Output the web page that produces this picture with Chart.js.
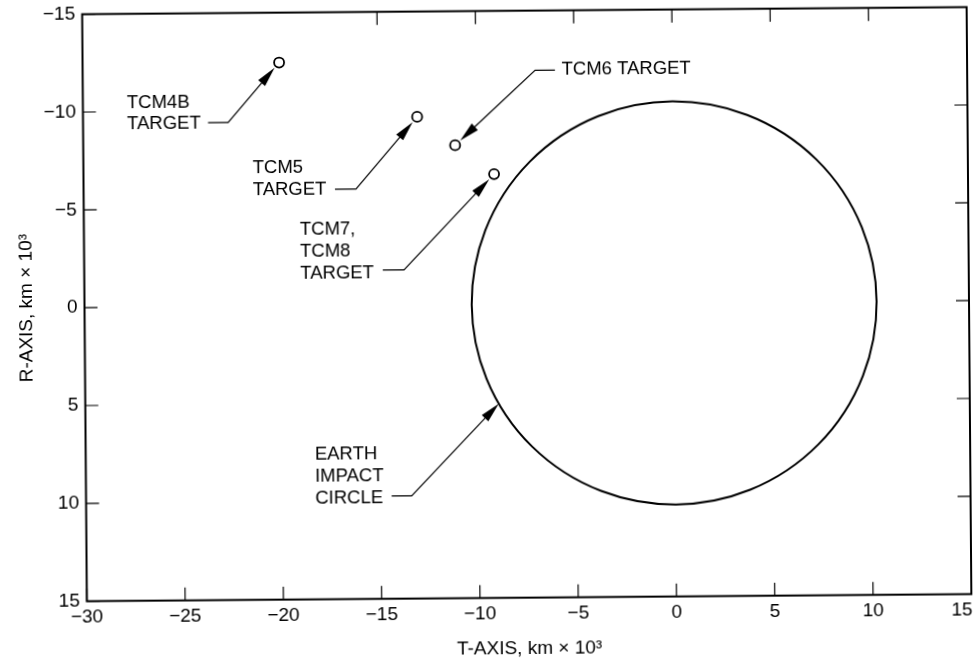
<!DOCTYPE html>
<html>
<head>
<meta charset="utf-8">
<script src="https://cdn.jsdelivr.net/npm/chart.js@4/dist/chart.umd.min.js"></script>
<style>
  html, body { margin: 0; padding: 0; background: #fff; overflow: hidden; }
  canvas {
    display: block;
    /* the printed plate sits slightly askew on the page */
    transform: rotate(-0.46deg);
    transform-origin: 526.75px 304.15px;
  }
</style>
</head>
<body>
<canvas id="bplane" width="977" height="662"></canvas>
<script>
// Target aim points in the B-plane (km x 10^3)
const targetNames = ['TCM4B', 'TCM5', 'TCM6', 'TCM7/TCM8'];
const targetT = [-20.0, -13.0, -11.08, -9.11];
const targetR = [-12.45, -9.62, -8.15, -6.66];

// Earth impact circle (km x 10^3)
const impactCenterT = 0;
const impactCenterR = 0;
const impactRadius = 10.3;

// Axis ticks
const xTickValues = [-30, -25, -20, -15, -10, -5, 0, 5, 10, 15];
const yTickValues = [-15, -10, -5, 0, 5, 10, 15];
const xTopTickValues = [-15, -10, -5, 0, 5, 10];
const yRightTickValues = [-10, -5, 0, 5, 10];

const xTitle = 'T-AXIS, km \u00d7 10\u00b3';
const yTitle = 'R-AXIS, km \u00d7 10\u00b3';

const FONT = '"Liberation Sans", Arial, Helvetica, sans-serif';
const LABEL_SIZE = 18.5; // callout text, px
const AXIS_SIZE = 19;    // tick labels and axis titles, px
const LINE_GAP = 21.7;   // px between callout lines
const HEAD_LEN = 20;     // arrowhead length, px
const HEAD_W = 9;        // arrowhead base width, px
const TICK_LEN = 13;     // inward tick length, px

// Callout labels with leader lines; positions in axis units
const callouts = [
  { lines: ['TCM4B', 'TARGET'], textAt: [-27.76, -10.19],
    leader: [[-23.64, -9.40], [-22.62, -9.40]], target: 0 },
  { lines: ['TCM5', 'TARGET'], textAt: [-21.39, -6.80],
    leader: [[-17.21, -5.96], [-16.14, -5.96]], target: 1 },
  { lines: ['TCM6 TARGET'], textAt: [-5.63, -11.70],
    leader: [[-5.97, -11.95], [-6.98, -11.95]], target: 2 },
  { lines: ['TCM7,', 'TCM8', 'TARGET'], textAt: [-19.01, -3.63],
    leader: [[-14.81, -1.80], [-13.73, -1.80]], target: 3 },
  { lines: ['EARTH', 'IMPACT', 'CIRCLE'], textAt: [-18.34, 7.88],
    leader: [[-14.45, 9.75], [-13.43, 9.75]], circleAngle: 150.5 }
];

// Minus sign for negatives; the last T label is nudged inside the frame edge
const fmtX = v => (v < 0 ? '\u2212' + Math.abs(v) : (v === 15 ? '15\u2002\u2002' : String(v)));
const fmtY = v => (v < 0 ? '\u2212' + Math.abs(v) : String(v));

const bplaneDecor = {
  id: 'bplaneDecor',
  beforeDatasetsDraw(chart) {
    const { ctx, scales: { x, y } } = chart;
    ctx.save();
    ctx.strokeStyle = '#000';
    ctx.fillStyle = '#000';

    // Earth impact circle
    const cx = x.getPixelForValue(impactCenterT);
    const cy = y.getPixelForValue(impactCenterR);
    const rx = Math.abs(x.getPixelForValue(impactCenterT + impactRadius) - cx);
    const ry = Math.abs(y.getPixelForValue(impactCenterR + impactRadius) - cy);
    ctx.lineWidth = 2;
    ctx.beginPath();
    ctx.ellipse(cx, cy, rx, ry, 0, 0, Math.PI * 2);
    ctx.stroke();

    // Callouts
    ctx.font = LABEL_SIZE + 'px ' + FONT;
    ctx.textAlign = 'left';
    ctx.textBaseline = 'alphabetic';
    callouts.forEach(c => {
      const tx = x.getPixelForValue(c.textAt[0]);
      const ty = y.getPixelForValue(c.textAt[1]);
      c.lines.forEach((s, i) => ctx.fillText(s, tx, ty + i * LINE_GAP));

      const pts = c.leader.map(p => [x.getPixelForValue(p[0]), y.getPixelForValue(p[1])]);
      let target, gap;
      if (c.target !== undefined) {
        target = [x.getPixelForValue(targetT[c.target]), y.getPixelForValue(targetR[c.target])];
        gap = 7;
      } else {
        const th = c.circleAngle * Math.PI / 180;
        target = [x.getPixelForValue(impactCenterT + impactRadius * Math.cos(th)),
                  y.getPixelForValue(impactCenterR + impactRadius * Math.sin(th))];
        gap = 0;
      }
      const e = pts[pts.length - 1];
      const dx = target[0] - e[0], dy = target[1] - e[1];
      const len = Math.hypot(dx, dy);
      const ux = dx / len, uy = dy / len;
      const tip = [target[0] - ux * gap, target[1] - uy * gap];
      const base = [tip[0] - ux * HEAD_LEN, tip[1] - uy * HEAD_LEN];

      ctx.lineWidth = 1.2;
      ctx.beginPath();
      ctx.moveTo(pts[0][0], pts[0][1]);
      for (let i = 1; i < pts.length; i++) ctx.lineTo(pts[i][0], pts[i][1]);
      ctx.lineTo(base[0] + ux * 2, base[1] + uy * 2);
      ctx.stroke();

      ctx.beginPath();
      ctx.moveTo(tip[0], tip[1]);
      ctx.lineTo(base[0] - uy * HEAD_W / 2, base[1] + ux * HEAD_W / 2);
      ctx.lineTo(base[0] + uy * HEAD_W / 2, base[1] - ux * HEAD_W / 2);
      ctx.closePath();
      ctx.fill();
    });
    ctx.restore();
  },
  afterDatasetsDraw(chart) {
    const { ctx, chartArea: a, scales: { x, y } } = chart;
    ctx.save();
    ctx.strokeStyle = '#000';
    ctx.lineWidth = 2;
    ctx.strokeRect(a.left, a.top, a.right - a.left, a.bottom - a.top);

    ctx.lineWidth = 1.2;
    ctx.beginPath();
    xTickValues.forEach(v => {
      const px = x.getPixelForValue(v);
      ctx.moveTo(px, a.bottom); ctx.lineTo(px, a.bottom - TICK_LEN);
    });
    xTopTickValues.forEach(v => {
      const px = x.getPixelForValue(v);
      ctx.moveTo(px, a.top); ctx.lineTo(px, a.top + TICK_LEN);
    });
    yTickValues.forEach(v => {
      const py = y.getPixelForValue(v);
      ctx.moveTo(a.left, py); ctx.lineTo(a.left + TICK_LEN, py);
    });
    yRightTickValues.forEach(v => {
      const py = y.getPixelForValue(v);
      ctx.moveTo(a.right, py); ctx.lineTo(a.right - TICK_LEN, py);
    });
    ctx.stroke();
    ctx.restore();
  }
};

new Chart(document.getElementById('bplane'), {
  type: 'scatter',
  data: {
    datasets: [{
      label: 'Targets',
      data: targetT.map((t, i) => ({ x: t, y: targetR[i] })),
      pointRadius: 5,
      pointHoverRadius: 5,
      pointBorderWidth: 1.8,
      pointBackgroundColor: '#fff',
      pointBorderColor: '#000',
      showLine: false
    }]
  },
  options: {
    responsive: false,
    animation: false,
    devicePixelRatio: 1,
    layout: { padding: { top: 10.65, right: 8, bottom: 0, left: 0 } },
    plugins: { legend: { display: false }, tooltip: { enabled: false } },
    scales: {
      x: {
        type: 'linear', min: -30, max: 15,
        afterBuildTicks: s => { s.ticks = xTickValues.map(v => ({ value: v })); },
        ticks: { callback: fmtX, color: '#000', font: { size: AXIS_SIZE, family: FONT },
                 padding: 4.5, maxRotation: 0, autoSkip: false },
        grid: { display: false, drawTicks: false },
        border: { display: false },
        title: { display: true, text: xTitle, color: '#000',
                 font: { size: AXIS_SIZE, family: FONT }, padding: { top: 0, bottom: 2 } },
        afterFit: s => { s.height = 662 - 597.65; s.paddingLeft = 0; s.paddingRight = 0; }
      },
      y: {
        type: 'linear', min: -15, max: 15, reverse: true,
        afterBuildTicks: s => { s.ticks = yTickValues.map(v => ({ value: v })); },
        ticks: { callback: fmtY, color: '#000', font: { size: AXIS_SIZE, family: FONT },
                 padding: 7, autoSkip: false },
        grid: { display: false, drawTicks: false },
        border: { display: false },
        title: { display: true, text: yTitle, color: '#000',
                 font: { size: AXIS_SIZE, family: FONT }, padding: { top: 15.6, bottom: 0 } },
        afterFit: s => { s.width = 84.5; s.paddingTop = 0; s.paddingBottom = 0; }
      }
    }
  },
  plugins: [bplaneDecor]
});
</script>
</body>
</html>
